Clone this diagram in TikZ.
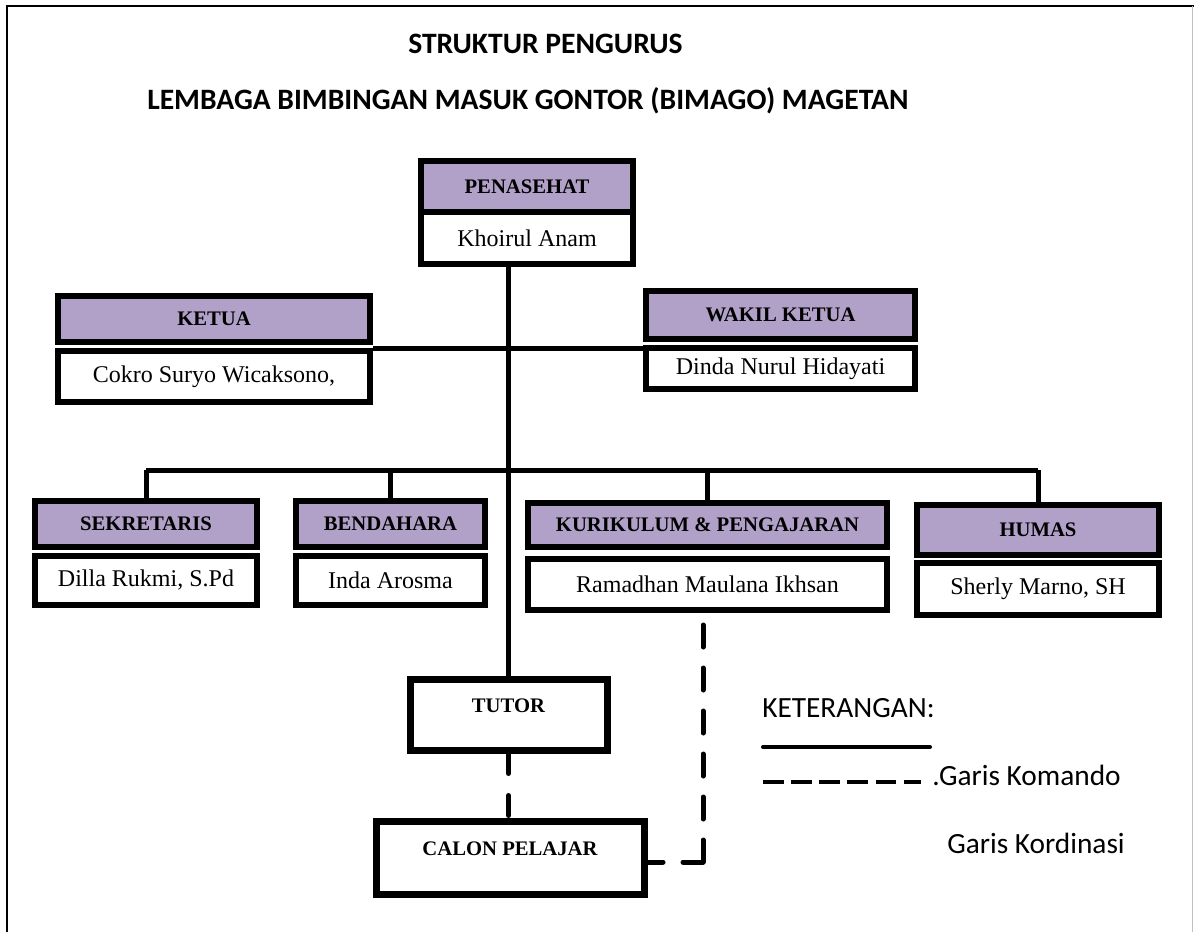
\documentclass[tikz,border=0pt]{standalone}
\usepackage{fontspec}
\setmainfont{Liberation Serif}
\newfontfamily\judulfont{Carlito}
\usetikzlibrary{positioning,calc}
\definecolor{ungu}{RGB}{177,160,199}

\tikzset{
    jabatan/.style={draw, line width=4.5pt, fill=ungu, inner sep=0pt,
        font=\fontsize{15.5}{18}\selectfont\bfseries},
    nama/.style={draw, line width=4.5pt, fill=white, inner sep=0pt,
        font=\fontsize{18}{21}\selectfont},
    kotak/.style={draw, line width=5.25pt, fill=white, inner sep=0pt,
        text height=11pt, text depth=14pt,
        font=\fontsize{15.5}{18}\selectfont\bfseries},
    judul/.style={inner sep=0pt, anchor=base west,
        font=\judulfont\bfseries\fontsize{22.2}{26}\selectfont},
    ket/.style={inner sep=0pt, anchor=base west,
        font=\judulfont\fontsize{22}{26}\selectfont},
    komando/.style={line width=3.75pt},
    koordinasi/.style={line width=3.75pt, line cap=round, dash pattern=on 16.5pt off 15.75pt},
}

\begin{document}
\begin{tikzpicture}[x=0.75pt, y=-0.75pt]
    \useasboundingbox (0,0) rectangle (1194,932);
    % Bingkai
    \draw[line width=1.5pt] (7,932) -- (7,6) -- (1194,6);
    \draw[black!25, line width=0.75pt] (1192.5,6) -- (1192.5,932);

    % Judul
    \node[judul] (judul1) at (408,53) {STRUKTUR PENGURUS};
    \node[judul] (judul2) at (147,109) {LEMBAGA BIMBINGAN MASUK GONTOR (BIMAGO) MAGETAN};

    % Penasehat
    \node[jabatan, minimum width=159pt, minimum height=38.25pt] (pen) at (527,186.5) {PENASEHAT};
    \node[nama, minimum width=159pt, minimum height=39pt] (pennama) at (527,238) {Khoirul Anam};

    % Ketua dan Wakil Ketua
    \node[jabatan, minimum width=234pt, minimum height=34.5pt] (ket) at (214,319) {KETUA};
    \node[nama, minimum width=234pt, minimum height=38.25pt] (ketnama) at (214,376.5) {Cokro Suryo Wicaksono,};
    \node[jabatan, minimum width=201.75pt, minimum height=36pt] (wak) at (780.5,315) {WAKIL KETUA};
    \node[nama, minimum width=201.75pt, minimum height=30.75pt] (waknama) at (780.5,368.5) {Dinda Nurul Hidayati};

    % Bidang
    \node[jabatan, minimum width=166.5pt, minimum height=34.5pt] (sek) at (146,524) {SEKRETARIS};
    \node[nama, minimum width=166.5pt, minimum height=36.75pt] (seknama) at (146,580.5) {Dilla Rukmi, S.Pd};
    \node[jabatan, minimum width=141.75pt, minimum height=34.5pt] (ben) at (390.5,524) {BENDAHARA};
    \node[nama, minimum width=141.75pt, minimum height=36.75pt] (bennama) at (390.5,580.5) {Inda Arosma};
    \node[jabatan, minimum width=269.25pt, minimum height=33pt] (kur) at (707.5,525) {KURIKULUM \& PENGAJARAN};
    \node[nama, minimum width=269.25pt, minimum height=38.25pt] (kurnama) at (707.5,584.5) {Ramadhan Maulana Ikhsan};
    \node[jabatan, minimum width=181.5pt, minimum height=37.5pt] (hum) at (1038,530) {HUMAS};
    \node[nama, minimum width=181.5pt, minimum height=39pt] (humnama) at (1038,589) {Sherly Marno, SH};

    % Tutor dan Calon Pelajar
    \node[kotak, minimum width=147.75pt, minimum height=53.25pt] (tutor) at (508.5,714.5) {TUTOR};
    \node[kotak, minimum width=201pt, minimum height=54.75pt] (calon) at (510,857.5) {CALON PELAJAR};

    % Garis komando
    \coordinate (bus) at (0,470);
    \draw[komando] (pennama.south -| tutor.north) -- (tutor.north);
    \draw[komando] (ketnama.north east) -- (ketnama.north east -| waknama.west);
    \draw[komando] (sek.north |- bus) -- (hum.north |- bus);
    \foreach \i in {sek,ben,kur,hum} {
        \draw[komando] (\i.north) -- (\i.north |- bus);
    }

    % Garis koordinasi
    \draw[koordinasi, dash pattern=on 15pt off 16.5pt] (tutor.south) -- (tutor.south |- calon.north);
    \coordinate (siku) at ($(kurnama.south |- calon.east)+(-4.5,4.5)$);
    \draw[koordinasi] (siku) -- (siku |- kurnama.south);
    \draw[koordinasi, dash pattern=on 15pt off 15pt] (siku) -- (siku -| calon.east);

    % Keterangan
    \node[ket] (keterangan) at (762,717) {KETERANGAN:};
    \coordinate (garis1a) at (763,747);
    \coordinate (garis1b) at (930,747);
    \coordinate (garis2a) at (763,782);
    \coordinate (garis2b) at (921,782);
    \draw[line width=3pt, line cap=round] (garis1a) -- (garis1b);
    \draw[line width=3pt, dash pattern=on 15.5pt off 5.6pt] (garis2a) -- (garis2b);
    \node[ket] (komando) at (932,785) {.Garis Komando};
    \node[ket] (kordinasi) at (947,853) {Garis Kordinasi};
\end{tikzpicture}
\end{document}
